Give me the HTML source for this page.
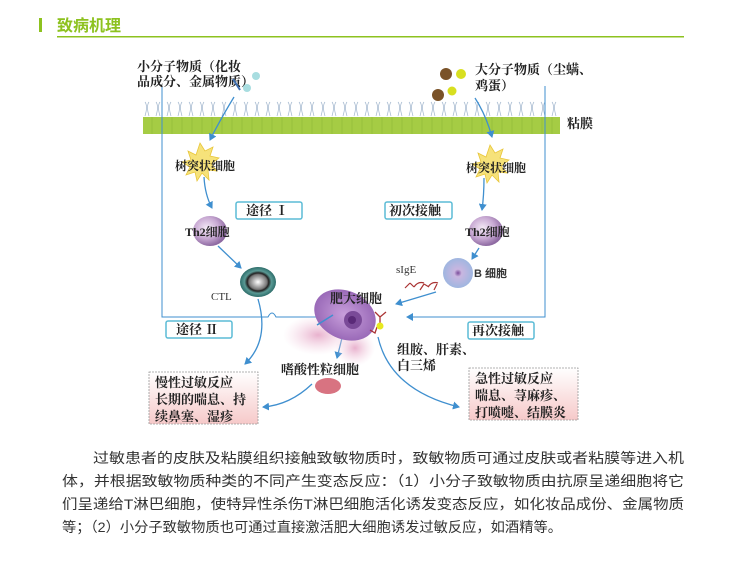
<!DOCTYPE html>
<html><head><meta charset="utf-8"><style>
html,body{margin:0;padding:0;background:#fff;}
svg{display:block;}
text{font-family:"Liberation Serif","Noto Serif CJK SC","Noto Sans CJK SC",serif;}
.s{font-family:"Liberation Sans","Noto Sans CJK SC",sans-serif;}
</style></head><body>
<svg width="739" height="561" viewBox="0 0 739 561" xmlns="http://www.w3.org/2000/svg">
<defs>
<marker id="ar" markerWidth="8" markerHeight="8" refX="6" refY="4" orient="auto" markerUnits="userSpaceOnUse"><path d="M0,0 L7,4 L0,8 Z" fill="#3f8fcf"/></marker>
<linearGradient id="bx" x1="0" y1="0" x2="0" y2="1"><stop offset="0" stop-color="#fff"/><stop offset="1" stop-color="#f6c9c9"/></linearGradient>
<radialGradient id="pc" cx="0.4" cy="0.4" r="0.6"><stop offset="0" stop-color="#f4eaf6"/><stop offset="0.6" stop-color="#c7a8d2"/><stop offset="1" stop-color="#8e6aa2"/></radialGradient>
<radialGradient id="ctl" cx="0.5" cy="0.5" r="0.5"><stop offset="0" stop-color="#fff"/><stop offset="0.5" stop-color="#777"/><stop offset="0.6" stop-color="#222"/><stop offset="0.75" stop-color="#5a9a95"/><stop offset="1" stop-color="#2d6d6a"/></radialGradient>
<radialGradient id="bc" cx="0.5" cy="0.5" r="0.5"><stop offset="0" stop-color="#7a4a9a"/><stop offset="0.25" stop-color="#c9b6e0"/><stop offset="1" stop-color="#9fb6e0"/></radialGradient>
<radialGradient id="mc" cx="0.5" cy="0.5" r="0.5"><stop offset="0" stop-color="#c9a0dc"/><stop offset="1" stop-color="#9a6ab8"/></radialGradient>
<radialGradient id="pk" cx="0.5" cy="0.5" r="0.5"><stop offset="0" stop-color="#e6a9c8" stop-opacity="0.9"/><stop offset="1" stop-color="#f3d3e3" stop-opacity="0"/></radialGradient>
</defs>

<rect x="39" y="18" width="3" height="14" fill="#8dc21f"/>
<text x="57" y="31" class="s" font-size="16" font-weight="bold" fill="#8dc21f">致病机理</text>
<rect x="57" y="36" width="627" height="1.5" fill="#8dc21f"/>

<g stroke="#9fb4cc" stroke-width="0.7" fill="none">
<path d="M145,116 q3,-10 0,-14 M149,116 q-3,-10 0,-14 M156,116 q3,-10 0,-14 M160,116 q-3,-10 0,-14 M167,116 q3,-10 0,-14 M171,116 q-3,-10 0,-14 M178,116 q3,-10 0,-14 M182,116 q-3,-10 0,-14 M189,116 q3,-10 0,-14 M193,116 q-3,-10 0,-14 M200,116 q3,-10 0,-14 M204,116 q-3,-10 0,-14 M211,116 q3,-10 0,-14 M215,116 q-3,-10 0,-14 M222,116 q3,-10 0,-14 M226,116 q-3,-10 0,-14 M233,116 q3,-10 0,-14 M237,116 q-3,-10 0,-14 M244,116 q3,-10 0,-14 M248,116 q-3,-10 0,-14 M255,116 q3,-10 0,-14 M259,116 q-3,-10 0,-14 M266,116 q3,-10 0,-14 M270,116 q-3,-10 0,-14 M277,116 q3,-10 0,-14 M281,116 q-3,-10 0,-14 M288,116 q3,-10 0,-14 M292,116 q-3,-10 0,-14 M299,116 q3,-10 0,-14 M303,116 q-3,-10 0,-14 M310,116 q3,-10 0,-14 M314,116 q-3,-10 0,-14 M321,116 q3,-10 0,-14 M325,116 q-3,-10 0,-14 M332,116 q3,-10 0,-14 M336,116 q-3,-10 0,-14 M343,116 q3,-10 0,-14 M347,116 q-3,-10 0,-14 M354,116 q3,-10 0,-14 M358,116 q-3,-10 0,-14 M365,116 q3,-10 0,-14 M369,116 q-3,-10 0,-14 M376,116 q3,-10 0,-14 M380,116 q-3,-10 0,-14 M387,116 q3,-10 0,-14 M391,116 q-3,-10 0,-14 M398,116 q3,-10 0,-14 M402,116 q-3,-10 0,-14 M409,116 q3,-10 0,-14 M413,116 q-3,-10 0,-14 M420,116 q3,-10 0,-14 M424,116 q-3,-10 0,-14 M431,116 q3,-10 0,-14 M435,116 q-3,-10 0,-14 M442,116 q3,-10 0,-14 M446,116 q-3,-10 0,-14 M453,116 q3,-10 0,-14 M457,116 q-3,-10 0,-14 M464,116 q3,-10 0,-14 M468,116 q-3,-10 0,-14 M475,116 q3,-10 0,-14 M479,116 q-3,-10 0,-14 M486,116 q3,-10 0,-14 M490,116 q-3,-10 0,-14 M497,116 q3,-10 0,-14 M501,116 q-3,-10 0,-14 M508,116 q3,-10 0,-14 M512,116 q-3,-10 0,-14 M519,116 q3,-10 0,-14 M523,116 q-3,-10 0,-14 M530,116 q3,-10 0,-14 M534,116 q-3,-10 0,-14 M541,116 q3,-10 0,-14 M545,116 q-3,-10 0,-14 M552,116 q3,-10 0,-14 M556,116 q-3,-10 0,-14"/>
</g>
<rect x="143" y="117" width="417" height="17" fill="#a5cc44"/>
<g stroke="#8fb836" stroke-width="0.6">
<path d="M152,117v17M162,117v17M172,117v17M182,117v17M192,117v17M202,117v17M212,117v17M222,117v17M232,117v17M242,117v17M252,117v17M262,117v17M272,117v17M282,117v17M292,117v17M302,117v17M312,117v17M322,117v17M332,117v17M342,117v17M352,117v17M362,117v17M372,117v17M382,117v17M392,117v17M402,117v17M412,117v17M422,117v17M432,117v17M442,117v17M452,117v17M462,117v17M472,117v17M482,117v17M492,117v17M502,117v17M512,117v17M522,117v17M532,117v17M542,117v17M552,117v17"/>
</g>
<text x="567" y="128" font-size="13" font-weight="bold" fill="#222">粘膜</text>

<path d="M162,86 V317 H268 q4,-8 8,0 H330" fill="none" stroke="#3f8fcf" stroke-width="1" marker-end="url(#ar)"/>
<path d="M545,86 V317 H407" fill="none" stroke="#3f8fcf" stroke-width="1" marker-end="url(#ar)"/>

<text x="137" y="71" font-size="13" font-weight="bold" fill="#222">小分子物质（化妆</text>
<text x="137" y="86" font-size="13" font-weight="bold" fill="#222">品成分、金属物质）</text>
<circle cx="256" cy="76" r="4" fill="#a8dde0"/><circle cx="247" cy="88" r="4" fill="#a8dde0"/>
<path d="M233,79 L240,90" stroke="#3f6fb0" stroke-width="2"/>
<text x="475" y="74" font-size="13" font-weight="bold" fill="#222">大分子物质（尘螨、</text>
<text x="475" y="90" font-size="13" font-weight="bold" fill="#222">鸡蛋）</text>
<circle cx="446" cy="74" r="6" fill="#7a5228"/><circle cx="461" cy="74" r="5" fill="#d8df20"/>
<circle cx="438" cy="95" r="6" fill="#7a5228"/><circle cx="452" cy="91" r="4.5" fill="#d8df20"/>

<path d="M200,143 l5,8 8,-4 -3,9 9,2 -8,6 6,7 -9,-1 1,10 -7,-7 -5,8 -2,-9 -9,3 4,-8 -8,-5 9,-2 -3,-9 8,4z" fill="#f6e27a" stroke="#e8c63a" stroke-width="0.8"/>
<path d="M490,145 l5,8 8,-4 -3,9 9,2 -8,6 6,7 -9,-1 1,10 -7,-7 -5,8 -2,-9 -9,3 4,-8 -8,-5 9,-2 -3,-9 8,4z" fill="#f6e27a" stroke="#e8c63a" stroke-width="0.8"/>
<text x="175" y="170" font-size="12" font-weight="bold" fill="#222">树突状细胞</text>
<text x="466" y="172" font-size="12" font-weight="bold" fill="#222">树突状细胞</text>

<g fill="none" stroke="#3f8fcf" stroke-width="1.3" marker-end="url(#ar)">
<path d="M234,97 Q220,120 210,140"/>
<path d="M475,98 Q486,115 492,137"/>
<path d="M204,177 Q205,195 212,208"/>
<path d="M484,178 Q484,195 482,210"/>
<path d="M218,246 L241,268"/>
<path d="M479,248 L472,259"/>
<path d="M436,292 L396,304"/>
<path d="M258,299 Q270,340 245,364"/>
<path d="M342,338 L337,358"/>
<path d="M312,384 Q290,405 263,407"/>
<path d="M378,337 Q390,390 459,407"/>
</g>

<g fill="#fff" stroke="#5bbcd6" stroke-width="1.5">
<rect x="236" y="202" width="66" height="17" rx="2"/>
<rect x="385" y="202" width="67" height="17" rx="2"/>
<rect x="166" y="321" width="66" height="17" rx="2"/>
<rect x="468" y="322" width="66" height="17" rx="2"/>
</g>
<text x="246" y="215" font-size="13" font-weight="bold" fill="#222">途径 Ⅰ</text>
<text x="389" y="215" font-size="13" font-weight="bold" fill="#222">初次接触</text>
<text x="176" y="334" font-size="13" font-weight="bold" fill="#222">途径 Ⅱ</text>
<text x="472" y="335" font-size="13" font-weight="bold" fill="#222">再次接触</text>

<ellipse cx="210" cy="231" rx="17" ry="15" fill="url(#pc)"/>
<ellipse cx="486" cy="231" rx="17" ry="15" fill="url(#pc)"/>
<text x="185" y="236" font-size="12" font-weight="bold" fill="#222">Th2细胞</text>
<text x="465" y="236" font-size="12" font-weight="bold" fill="#222">Th2细胞</text>

<ellipse cx="258" cy="282" rx="18" ry="15" fill="url(#ctl)"/>
<text x="211" y="300" font-size="11" fill="#333">CTL</text>

<circle cx="458" cy="273" r="15" fill="url(#bc)"/>
<text x="474" y="277" class="s" font-size="11" font-weight="bold" fill="#333">B 细胞</text>
<text x="396" y="273" font-size="11" fill="#333">sIgE</text>
<path d="M405,288 l5,-5 M410,283 l4,4 M414,287 q4,-6 10,-4 M420,290 l4,-6 M424,284 l5,3 M428,287 q4,-6 10,-4 M434,290 l3,-6" stroke="#a33" stroke-width="1.2" fill="none"/>

<ellipse cx="318" cy="335" rx="35" ry="20" fill="url(#pk)"/>
<ellipse cx="355" cy="348" rx="20" ry="18" fill="url(#pk)"/>
<ellipse cx="328" cy="386" rx="13" ry="8" fill="#c8384c" opacity="0.7"/>
<ellipse cx="345" cy="315" rx="32" ry="24" transform="rotate(25 345 315)" fill="url(#mc)"/>
<circle cx="353" cy="320" r="9" fill="#7a4a98"/>
<circle cx="352" cy="320" r="4" fill="#5a2a78"/>
<path d="M317,325 L333,315" stroke="#3f8fcf" stroke-width="1.5"/>
<path d="M375,312 l5,5 l6,-5 M380,317 v6 M370,330 l5,3 l2,-6" stroke="#a33" stroke-width="1.3" fill="none"/>
<circle cx="380" cy="326" r="3.5" fill="#e8e820"/>
<text x="330" y="303" font-size="13" font-weight="bold" fill="#222">肥大细胞</text>
<text x="281" y="374" font-size="13" font-weight="bold" fill="#222">嗜酸性粒细胞</text>
<text x="397" y="354" font-size="13" font-weight="bold" fill="#222">组胺、肝素、</text>
<text x="397" y="370" font-size="13" font-weight="bold" fill="#222">白三烯</text>

<rect x="149" y="372" width="109" height="52" fill="url(#bx)" stroke="#999" stroke-width="0.8" stroke-dasharray="2,1"/>
<text x="155" y="387" font-size="13" font-weight="bold" fill="#222">慢性过敏反应</text>
<text x="155" y="404" font-size="13" font-weight="bold" fill="#222">长期的喘息、持</text>
<text x="155" y="421" font-size="13" font-weight="bold" fill="#222">续鼻塞、湿疹</text>
<rect x="469" y="368" width="109" height="52" fill="url(#bx)" stroke="#999" stroke-width="0.8" stroke-dasharray="2,1"/>
<text x="475" y="383" font-size="13" font-weight="bold" fill="#222">急性过敏反应</text>
<text x="475" y="400" font-size="13" font-weight="bold" fill="#222">喘息、荨麻疹、</text>
<text x="475" y="417" font-size="13" font-weight="bold" fill="#222">打喷嚏、结膜炎</text>

<g class="s" font-size="14" fill="#333">
<text class="s" x="93" y="463" textLength="591" lengthAdjust="spacingAndGlyphs">过敏患者的皮肤及粘膜组织接触致敏物质时，致敏物质可通过皮肤或者粘膜等进入机</text>
<text class="s" x="62" y="486" textLength="622" lengthAdjust="spacingAndGlyphs">体，并根据致敏物质种类的不同产生变态反应：（1）小分子致敏物质由抗原呈递细胞将它</text>
<text class="s" x="62" y="509" textLength="622" lengthAdjust="spacingAndGlyphs">们呈递给T淋巴细胞，使特异性杀伤T淋巴细胞活化诱发变态反应，如化妆品成份、金属物质</text>
<text class="s" x="62" y="532" textLength="500" lengthAdjust="spacingAndGlyphs">等；（2）小分子致敏物质也可通过直接激活肥大细胞诱发过敏反应，如酒精等。</text>
</g>
</svg>
</body></html>
